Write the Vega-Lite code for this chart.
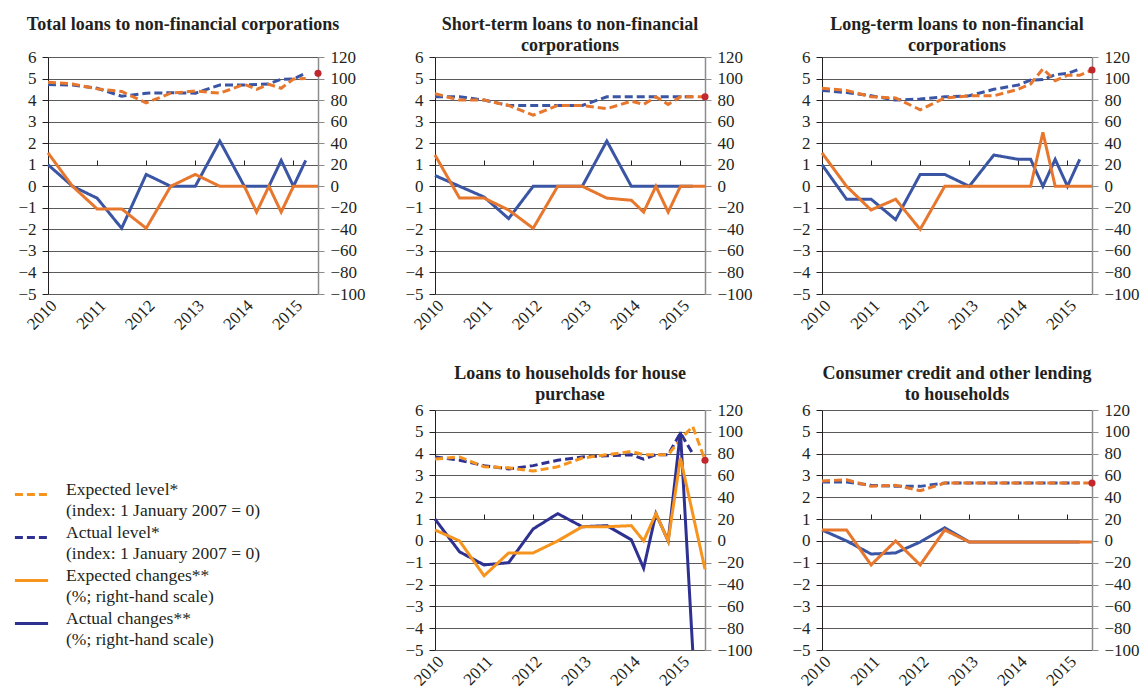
{
"$schema": "https://vega.github.io/schema/vega-lite/v6.json",
"background": "white",
"padding": {"left": 13, "top": 15, "right": 5, "bottom": 5},
"config": {
  "font": "Liberation Serif",
  "view": {"stroke": null},
  "axis": {"labelFont": "Liberation Serif", "labelFontSize": 17, "labelColor": "#231F20", "titleFont": "Liberation Serif"},
  "title": {"font": "Liberation Serif", "fontSize": 18, "fontWeight": "bold", "color": "#231F20", "lineHeight": 21.5, "offset": -7, "anchor": "middle", "frame": "group"},
  "style": {"guide-label": {"lineHeight": 21}}
},
"datasets": {
  "l1": [
    {"t":2010,"s":"Actual level","v":4.72},{"t":2010.5,"s":"Actual level","v":4.7},{"t":2011,"s":"Actual level","v":4.55},{"t":2011.5,"s":"Actual level","v":4.18},{"t":2012,"s":"Actual level","v":4.32},{"t":2012.5,"s":"Actual level","v":4.34},{"t":2013,"s":"Actual level","v":4.32},{"t":2013.5,"s":"Actual level","v":4.7},{"t":2014,"s":"Actual level","v":4.7},{"t":2014.25,"s":"Actual level","v":4.72},{"t":2014.5,"s":"Actual level","v":4.75},{"t":2014.75,"s":"Actual level","v":4.97},{"t":2015,"s":"Actual level","v":4.98},{"t":2015.25,"s":"Actual level","v":5.25},
    {"t":2010,"s":"Expected level","v":4.83},{"t":2010.5,"s":"Expected level","v":4.75},{"t":2011,"s":"Expected level","v":4.52},{"t":2011.5,"s":"Expected level","v":4.4},{"t":2012,"s":"Expected level","v":3.87},{"t":2012.5,"s":"Expected level","v":4.32},{"t":2013,"s":"Expected level","v":4.42},{"t":2013.5,"s":"Expected level","v":4.32},{"t":2014,"s":"Expected level","v":4.73},{"t":2014.25,"s":"Expected level","v":4.5},{"t":2014.5,"s":"Expected level","v":4.73},{"t":2014.75,"s":"Expected level","v":4.55},{"t":2015,"s":"Expected level","v":4.98},{"t":2015.25,"s":"Expected level","v":5.0}
  ],
  "c1": [
    {"t":2010,"s":"Actual changes","v":20},{"t":2010.5,"s":"Actual changes","v":0},{"t":2011,"s":"Actual changes","v":-11},{"t":2011.5,"s":"Actual changes","v":-39},{"t":2012,"s":"Actual changes","v":11},{"t":2012.5,"s":"Actual changes","v":0},{"t":2013,"s":"Actual changes","v":0},{"t":2013.5,"s":"Actual changes","v":42},{"t":2014,"s":"Actual changes","v":0},{"t":2014.25,"s":"Actual changes","v":0},{"t":2014.5,"s":"Actual changes","v":0},{"t":2014.75,"s":"Actual changes","v":24},{"t":2015,"s":"Actual changes","v":0},{"t":2015.25,"s":"Actual changes","v":24},
    {"t":2010,"s":"Expected changes","v":31},{"t":2010.5,"s":"Expected changes","v":0},{"t":2011,"s":"Expected changes","v":-21},{"t":2011.5,"s":"Expected changes","v":-21},{"t":2012,"s":"Expected changes","v":-39},{"t":2012.5,"s":"Expected changes","v":0},{"t":2013,"s":"Expected changes","v":11},{"t":2013.5,"s":"Expected changes","v":0},{"t":2014,"s":"Expected changes","v":0},{"t":2014.25,"s":"Expected changes","v":-24},{"t":2014.5,"s":"Expected changes","v":0},{"t":2014.75,"s":"Expected changes","v":-24},{"t":2015,"s":"Expected changes","v":0},{"t":2015.25,"s":"Expected changes","v":0},{"t":2015.5,"s":"Expected changes","v":0}
  ],
  "d1": [{"t":2015.5,"v":5.24}],
  "l2": [
    {"t":2010,"s":"Actual level","v":4.15},{"t":2010.5,"s":"Actual level","v":4.15},{"t":2011,"s":"Actual level","v":4.0},{"t":2011.5,"s":"Actual level","v":3.75},{"t":2012,"s":"Actual level","v":3.75},{"t":2012.5,"s":"Actual level","v":3.75},{"t":2013,"s":"Actual level","v":3.75},{"t":2013.5,"s":"Actual level","v":4.15},{"t":2014,"s":"Actual level","v":4.15},{"t":2014.25,"s":"Actual level","v":4.15},{"t":2014.5,"s":"Actual level","v":4.15},{"t":2014.75,"s":"Actual level","v":4.15},{"t":2015,"s":"Actual level","v":4.15},{"t":2015.25,"s":"Actual level","v":4.15},
    {"t":2010,"s":"Expected level","v":4.3},{"t":2010.5,"s":"Expected level","v":4.0},{"t":2011,"s":"Expected level","v":4.0},{"t":2011.5,"s":"Expected level","v":3.75},{"t":2012,"s":"Expected level","v":3.3},{"t":2012.5,"s":"Expected level","v":3.75},{"t":2013,"s":"Expected level","v":3.75},{"t":2013.5,"s":"Expected level","v":3.6},{"t":2014,"s":"Expected level","v":3.95},{"t":2014.25,"s":"Expected level","v":3.8},{"t":2014.5,"s":"Expected level","v":4.15},{"t":2014.75,"s":"Expected level","v":3.8},{"t":2015,"s":"Expected level","v":4.15},{"t":2015.25,"s":"Expected level","v":4.15},{"t":2015.5,"s":"Expected level","v":4.15}
  ],
  "c2": [
    {"t":2010,"s":"Actual changes","v":10},{"t":2010.5,"s":"Actual changes","v":0},{"t":2011,"s":"Actual changes","v":-10},{"t":2011.5,"s":"Actual changes","v":-30},{"t":2012,"s":"Actual changes","v":0},{"t":2012.5,"s":"Actual changes","v":0},{"t":2013,"s":"Actual changes","v":0},{"t":2013.5,"s":"Actual changes","v":42},{"t":2014,"s":"Actual changes","v":0},{"t":2014.25,"s":"Actual changes","v":0},{"t":2014.5,"s":"Actual changes","v":0},{"t":2014.75,"s":"Actual changes","v":0},{"t":2015,"s":"Actual changes","v":0},{"t":2015.25,"s":"Actual changes","v":0},
    {"t":2010,"s":"Expected changes","v":29},{"t":2010.5,"s":"Expected changes","v":-11},{"t":2011,"s":"Expected changes","v":-11},{"t":2011.5,"s":"Expected changes","v":-22},{"t":2012,"s":"Expected changes","v":-39},{"t":2012.5,"s":"Expected changes","v":0},{"t":2013,"s":"Expected changes","v":0},{"t":2013.5,"s":"Expected changes","v":-11},{"t":2014,"s":"Expected changes","v":-13},{"t":2014.25,"s":"Expected changes","v":-24},{"t":2014.5,"s":"Expected changes","v":0},{"t":2014.75,"s":"Expected changes","v":-24},{"t":2015,"s":"Expected changes","v":0},{"t":2015.25,"s":"Expected changes","v":0},{"t":2015.5,"s":"Expected changes","v":0}
  ],
  "d2": [{"t":2015.5,"v":4.15}],
  "l3": [
    {"t":2010,"s":"Actual level","v":4.45},{"t":2010.5,"s":"Actual level","v":4.35},{"t":2011,"s":"Actual level","v":4.2},{"t":2011.5,"s":"Actual level","v":4.0},{"t":2012,"s":"Actual level","v":4.05},{"t":2012.5,"s":"Actual level","v":4.15},{"t":2013,"s":"Actual level","v":4.2},{"t":2013.5,"s":"Actual level","v":4.5},{"t":2014,"s":"Actual level","v":4.7},{"t":2014.25,"s":"Actual level","v":4.93},{"t":2014.5,"s":"Actual level","v":4.95},{"t":2014.75,"s":"Actual level","v":5.18},{"t":2015,"s":"Actual level","v":5.24},{"t":2015.25,"s":"Actual level","v":5.44},
    {"t":2010,"s":"Expected level","v":4.55},{"t":2010.5,"s":"Expected level","v":4.45},{"t":2011,"s":"Expected level","v":4.15},{"t":2011.5,"s":"Expected level","v":4.1},{"t":2012,"s":"Expected level","v":3.55},{"t":2012.5,"s":"Expected level","v":4.1},{"t":2013,"s":"Expected level","v":4.2},{"t":2013.5,"s":"Expected level","v":4.2},{"t":2014,"s":"Expected level","v":4.5},{"t":2014.25,"s":"Expected level","v":4.75},{"t":2014.5,"s":"Expected level","v":5.45},{"t":2014.75,"s":"Expected level","v":4.9},{"t":2015,"s":"Expected level","v":5.15},{"t":2015.25,"s":"Expected level","v":5.15},{"t":2015.5,"s":"Expected level","v":5.4}
  ],
  "c3": [
    {"t":2010,"s":"Actual changes","v":20},{"t":2010.5,"s":"Actual changes","v":-12},{"t":2011,"s":"Actual changes","v":-12},{"t":2011.5,"s":"Actual changes","v":-31},{"t":2012,"s":"Actual changes","v":11},{"t":2012.5,"s":"Actual changes","v":11},{"t":2013,"s":"Actual changes","v":0},{"t":2013.5,"s":"Actual changes","v":29},{"t":2014,"s":"Actual changes","v":25},{"t":2014.25,"s":"Actual changes","v":25},{"t":2014.5,"s":"Actual changes","v":0},{"t":2014.75,"s":"Actual changes","v":25},{"t":2015,"s":"Actual changes","v":0},{"t":2015.25,"s":"Actual changes","v":25},
    {"t":2010,"s":"Expected changes","v":31},{"t":2010.5,"s":"Expected changes","v":0},{"t":2011,"s":"Expected changes","v":-22},{"t":2011.5,"s":"Expected changes","v":-12},{"t":2012,"s":"Expected changes","v":-40},{"t":2012.5,"s":"Expected changes","v":0},{"t":2013,"s":"Expected changes","v":0},{"t":2013.5,"s":"Expected changes","v":0},{"t":2014,"s":"Expected changes","v":0},{"t":2014.25,"s":"Expected changes","v":0},{"t":2014.5,"s":"Expected changes","v":50},{"t":2014.75,"s":"Expected changes","v":0},{"t":2015,"s":"Expected changes","v":0},{"t":2015.25,"s":"Expected changes","v":0},{"t":2015.5,"s":"Expected changes","v":0}
  ],
  "d3": [{"t":2015.5,"v":5.4}],
  "l4": [
    {"t":2010,"s":"Actual level","v":3.85},{"t":2010.5,"s":"Actual level","v":3.7},{"t":2011,"s":"Actual level","v":3.45},{"t":2011.5,"s":"Actual level","v":3.3},{"t":2012,"s":"Actual level","v":3.45},{"t":2012.5,"s":"Actual level","v":3.7},{"t":2013,"s":"Actual level","v":3.85},{"t":2013.5,"s":"Actual level","v":3.9},{"t":2014,"s":"Actual level","v":3.95},{"t":2014.25,"s":"Actual level","v":3.75},{"t":2014.5,"s":"Actual level","v":3.95},{"t":2014.75,"s":"Actual level","v":3.95},{"t":2015,"s":"Actual level","v":4.95},{"t":2015.25,"s":"Actual level","v":4.0},
    {"t":2010,"s":"Expected level","v":3.75},{"t":2010.5,"s":"Expected level","v":3.85},{"t":2011,"s":"Expected level","v":3.4},{"t":2011.5,"s":"Expected level","v":3.35},{"t":2012,"s":"Expected level","v":3.2},{"t":2012.5,"s":"Expected level","v":3.4},{"t":2013,"s":"Expected level","v":3.8},{"t":2013.5,"s":"Expected level","v":3.95},{"t":2014,"s":"Expected level","v":4.1},{"t":2014.25,"s":"Expected level","v":3.95},{"t":2014.5,"s":"Expected level","v":3.95},{"t":2014.75,"s":"Expected level","v":3.95},{"t":2015,"s":"Expected level","v":4.65},{"t":2015.25,"s":"Expected level","v":5.25},{"t":2015.5,"s":"Expected level","v":3.7}
  ],
  "c4": [
    {"t":2010,"s":"Actual changes","v":20},{"t":2010.5,"s":"Actual changes","v":-10},{"t":2011,"s":"Actual changes","v":-22},{"t":2011.5,"s":"Actual changes","v":-20},{"t":2012,"s":"Actual changes","v":11},{"t":2012.5,"s":"Actual changes","v":25},{"t":2013,"s":"Actual changes","v":13},{"t":2013.5,"s":"Actual changes","v":14},{"t":2014,"s":"Actual changes","v":1},{"t":2014.25,"s":"Actual changes","v":-25},{"t":2014.5,"s":"Actual changes","v":25},{"t":2014.75,"s":"Actual changes","v":0},{"t":2015,"s":"Actual changes","v":100},{"t":2015.25,"s":"Actual changes","v":-100},
    {"t":2010,"s":"Expected changes","v":10},{"t":2010.5,"s":"Expected changes","v":0},{"t":2011,"s":"Expected changes","v":-32},{"t":2011.5,"s":"Expected changes","v":-11},{"t":2012,"s":"Expected changes","v":-11},{"t":2012.5,"s":"Expected changes","v":0},{"t":2013,"s":"Expected changes","v":13},{"t":2013.5,"s":"Expected changes","v":13},{"t":2014,"s":"Expected changes","v":14},{"t":2014.25,"s":"Expected changes","v":0},{"t":2014.5,"s":"Expected changes","v":25},{"t":2014.75,"s":"Expected changes","v":0},{"t":2015,"s":"Expected changes","v":76},{"t":2015.5,"s":"Expected changes","v":-26}
  ],
  "d4": [{"t":2015.5,"v":3.7}],
  "l5": [
    {"t":2010,"s":"Actual level","v":2.7},{"t":2010.5,"s":"Actual level","v":2.7},{"t":2011,"s":"Actual level","v":2.55},{"t":2011.5,"s":"Actual level","v":2.5},{"t":2012,"s":"Actual level","v":2.5},{"t":2012.5,"s":"Actual level","v":2.65},{"t":2013,"s":"Actual level","v":2.65},{"t":2013.5,"s":"Actual level","v":2.65},{"t":2014,"s":"Actual level","v":2.65},{"t":2014.25,"s":"Actual level","v":2.65},{"t":2014.5,"s":"Actual level","v":2.65},{"t":2014.75,"s":"Actual level","v":2.65},{"t":2015,"s":"Actual level","v":2.65},{"t":2015.25,"s":"Actual level","v":2.65},
    {"t":2010,"s":"Expected level","v":2.75},{"t":2010.5,"s":"Expected level","v":2.8},{"t":2011,"s":"Expected level","v":2.5},{"t":2011.5,"s":"Expected level","v":2.55},{"t":2012,"s":"Expected level","v":2.3},{"t":2012.5,"s":"Expected level","v":2.65},{"t":2013,"s":"Expected level","v":2.65},{"t":2013.5,"s":"Expected level","v":2.65},{"t":2014,"s":"Expected level","v":2.65},{"t":2014.25,"s":"Expected level","v":2.65},{"t":2014.5,"s":"Expected level","v":2.65},{"t":2014.75,"s":"Expected level","v":2.65},{"t":2015,"s":"Expected level","v":2.65},{"t":2015.25,"s":"Expected level","v":2.65},{"t":2015.5,"s":"Expected level","v":2.65}
  ],
  "c5": [
    {"t":2010,"s":"Actual changes","v":10},{"t":2010.5,"s":"Actual changes","v":0},{"t":2011,"s":"Actual changes","v":-12},{"t":2011.5,"s":"Actual changes","v":-11},{"t":2012,"s":"Actual changes","v":-1},{"t":2012.5,"s":"Actual changes","v":12},{"t":2013,"s":"Actual changes","v":-1},{"t":2013.5,"s":"Actual changes","v":-1},{"t":2014,"s":"Actual changes","v":-1},{"t":2014.25,"s":"Actual changes","v":-1},{"t":2014.5,"s":"Actual changes","v":-1},{"t":2014.75,"s":"Actual changes","v":-1},{"t":2015,"s":"Actual changes","v":-1},{"t":2015.25,"s":"Actual changes","v":-1},
    {"t":2010,"s":"Expected changes","v":10},{"t":2010.5,"s":"Expected changes","v":10},{"t":2011,"s":"Expected changes","v":-22},{"t":2011.5,"s":"Expected changes","v":0},{"t":2012,"s":"Expected changes","v":-22},{"t":2012.5,"s":"Expected changes","v":10},{"t":2013,"s":"Expected changes","v":-1},{"t":2013.5,"s":"Expected changes","v":-1},{"t":2014,"s":"Expected changes","v":-1},{"t":2014.25,"s":"Expected changes","v":-1},{"t":2014.5,"s":"Expected changes","v":-1},{"t":2014.75,"s":"Expected changes","v":-1},{"t":2015,"s":"Expected changes","v":-1},{"t":2015.25,"s":"Expected changes","v":-1},{"t":2015.5,"s":"Expected changes","v":-1}
  ],
  "d5": [{"t":2015.5,"v":2.65}]
},
"columns": 3,
"spacing": {"row": 113, "column": 117},
"bounds": "flush",
"align": "all",
"resolve": {"scale": {"color": "independent", "strokeDash": "independent"}},
"concat": [
  {
    "width": 270, "height": 237,
    "title": {"text": ["Total loans to non-financial corporations", ""]},
    "resolve": {"scale": {"y": "independent"}, "axis": {"x": "independent"}},
    "layer": [
      {"layer": [
        {"data": {"name": "l1"}, "mark": {"type": "line", "strokeWidth": 3},
         "encoding": {
           "x": {"field": "t", "type": "quantitative", "scale": {"domain": [2010, 2015.5], "nice": false, "zero": false}, "axis": {"values": [2010, 2011, 2012, 2013, 2014, 2015], "format": "d", "labelAngle": -45, "domain": false, "ticks": false, "grid": false, "title": null, "labelPadding": 3}},
           "y": {"field": "v", "type": "quantitative", "scale": {"domain": [-5, 6], "nice": false, "zero": false}, "axis": {"orient": "left", "values": [-5,-4,-3,-2,-1,0,1,2,3,4,5,6], "format": "d", "grid": true, "gridColor": "#5a5a5a", "gridWidth": 1, "domainColor": "#231F20", "tickColor": "#231F20", "tickSize": 6, "labelPadding": 6, "title": null}},
           "color": {"field": "s", "type": "nominal", "scale": {"domain": ["Expected level", "Actual level", "Expected changes", "Actual changes"], "range": ["#E8772E", "#3A55A4", "#E8772E", "#3A55A4"]}, "legend": null},
           "strokeDash": {"field": "s", "type": "nominal", "scale": {"domain": ["Expected level", "Actual level", "Expected changes", "Actual changes"], "range": [[8,4],[8,4],[1,0],[1,0]]}, "legend": null}
         }},
        {"data": {"name": "d1"}, "mark": {"type": "point", "filled": true, "color": "#C1272D", "size": 50, "opacity": 1},
         "encoding": {
           "x": {"field": "t", "type": "quantitative", "axis": {"values": [2010, 2011, 2012, 2013, 2014, 2015], "format": "d", "labelAngle": -45, "domain": false, "ticks": false, "grid": false, "title": null, "labelPadding": 3}},
           "y": {"field": "v", "type": "quantitative", "axis": {"orient": "left", "values": [-5,-4,-3,-2,-1,0,1,2,3,4,5,6], "format": "d", "grid": true, "gridColor": "#5a5a5a", "gridWidth": 1, "domainColor": "#231F20", "tickColor": "#231F20", "tickSize": 6, "labelPadding": 6, "title": null}}}}
      ]},
      {"data": {"name": "c1"}, "mark": {"type": "line", "strokeWidth": 3},
       "encoding": {
         "x": {"field": "t", "type": "quantitative", "axis": {"values": [2011, 2012, 2013, 2014, 2015], "labels": false, "domain": false, "ticks": true, "tickSize": 5, "tickColor": "#231F20", "offset": -108, "grid": false, "title": null}},
         "y": {"field": "v", "type": "quantitative", "scale": {"domain": [-100, 120], "nice": false}, "axis": {"orient": "right", "values": [-100,-80,-60,-40,-20,0,20,40,60,80,100,120], "format": "d", "grid": false, "domainColor": "#8c8c8c", "domainWidth": 1.5, "tickColor": "#8c8c8c", "tickSize": 6, "labelPadding": 6, "title": null}},
         "color": {"field": "s", "type": "nominal", "scale": {"domain": ["Expected level", "Actual level", "Expected changes", "Actual changes"], "range": ["#E8772E", "#3A55A4", "#E8772E", "#3A55A4"]}, "legend": null},
         "strokeDash": {"field": "s", "type": "nominal", "scale": {"domain": ["Expected level", "Actual level", "Expected changes", "Actual changes"], "range": [[8,4],[8,4],[1,0],[1,0]]}, "legend": null}
       }}
    ]
  },
  {
    "width": 270, "height": 237,
    "title": {"text": ["Short-term loans to non-financial", "corporations"]},
    "resolve": {"scale": {"y": "independent"}, "axis": {"x": "independent"}},
    "layer": [
      {"layer": [
        {"data": {"name": "l2"}, "mark": {"type": "line", "strokeWidth": 3},
         "encoding": {
           "x": {"field": "t", "type": "quantitative", "scale": {"domain": [2010, 2015.5], "nice": false, "zero": false}, "axis": {"values": [2010, 2011, 2012, 2013, 2014, 2015], "format": "d", "labelAngle": -45, "domain": false, "ticks": false, "grid": false, "title": null, "labelPadding": 3}},
           "y": {"field": "v", "type": "quantitative", "scale": {"domain": [-5, 6], "nice": false, "zero": false}, "axis": {"orient": "left", "values": [-5,-4,-3,-2,-1,0,1,2,3,4,5,6], "format": "d", "grid": true, "gridColor": "#5a5a5a", "gridWidth": 1, "domainColor": "#231F20", "tickColor": "#231F20", "tickSize": 6, "labelPadding": 6, "title": null}},
           "color": {"field": "s", "type": "nominal", "scale": {"domain": ["Expected level", "Actual level", "Expected changes", "Actual changes"], "range": ["#E8772E", "#3A55A4", "#E8772E", "#3A55A4"]}, "legend": null},
           "strokeDash": {"field": "s", "type": "nominal", "scale": {"domain": ["Expected level", "Actual level", "Expected changes", "Actual changes"], "range": [[8,4],[8,4],[1,0],[1,0]]}, "legend": null}
         }},
        {"data": {"name": "d2"}, "mark": {"type": "point", "filled": true, "color": "#C1272D", "size": 50, "opacity": 1},
         "encoding": {
           "x": {"field": "t", "type": "quantitative", "axis": {"values": [2010, 2011, 2012, 2013, 2014, 2015], "format": "d", "labelAngle": -45, "domain": false, "ticks": false, "grid": false, "title": null, "labelPadding": 3}},
           "y": {"field": "v", "type": "quantitative", "axis": {"orient": "left", "values": [-5,-4,-3,-2,-1,0,1,2,3,4,5,6], "format": "d", "grid": true, "gridColor": "#5a5a5a", "gridWidth": 1, "domainColor": "#231F20", "tickColor": "#231F20", "tickSize": 6, "labelPadding": 6, "title": null}}}}
      ]},
      {"data": {"name": "c2"}, "mark": {"type": "line", "strokeWidth": 3},
       "encoding": {
         "x": {"field": "t", "type": "quantitative", "axis": {"values": [2011, 2012, 2013, 2014, 2015], "labels": false, "domain": false, "ticks": true, "tickSize": 5, "tickColor": "#231F20", "offset": -108, "grid": false, "title": null}},
         "y": {"field": "v", "type": "quantitative", "scale": {"domain": [-100, 120], "nice": false}, "axis": {"orient": "right", "values": [-100,-80,-60,-40,-20,0,20,40,60,80,100,120], "format": "d", "grid": false, "domainColor": "#8c8c8c", "domainWidth": 1.5, "tickColor": "#8c8c8c", "tickSize": 6, "labelPadding": 6, "title": null}},
         "color": {"field": "s", "type": "nominal", "scale": {"domain": ["Expected level", "Actual level", "Expected changes", "Actual changes"], "range": ["#E8772E", "#3A55A4", "#E8772E", "#3A55A4"]}, "legend": null},
         "strokeDash": {"field": "s", "type": "nominal", "scale": {"domain": ["Expected level", "Actual level", "Expected changes", "Actual changes"], "range": [[8,4],[8,4],[1,0],[1,0]]}, "legend": null}
       }}
    ]
  },
  {
    "width": 270, "height": 237,
    "title": {"text": ["Long-term loans to non-financial", "corporations"]},
    "resolve": {"scale": {"y": "independent"}, "axis": {"x": "independent"}},
    "layer": [
      {"layer": [
        {"data": {"name": "l3"}, "mark": {"type": "line", "strokeWidth": 3},
         "encoding": {
           "x": {"field": "t", "type": "quantitative", "scale": {"domain": [2010, 2015.5], "nice": false, "zero": false}, "axis": {"values": [2010, 2011, 2012, 2013, 2014, 2015], "format": "d", "labelAngle": -45, "domain": false, "ticks": false, "grid": false, "title": null, "labelPadding": 3}},
           "y": {"field": "v", "type": "quantitative", "scale": {"domain": [-5, 6], "nice": false, "zero": false}, "axis": {"orient": "left", "values": [-5,-4,-3,-2,-1,0,1,2,3,4,5,6], "format": "d", "grid": true, "gridColor": "#5a5a5a", "gridWidth": 1, "domainColor": "#231F20", "tickColor": "#231F20", "tickSize": 6, "labelPadding": 6, "title": null}},
           "color": {"field": "s", "type": "nominal", "scale": {"domain": ["Expected level", "Actual level", "Expected changes", "Actual changes"], "range": ["#E8772E", "#3A55A4", "#E8772E", "#3A55A4"]}, "legend": null},
           "strokeDash": {"field": "s", "type": "nominal", "scale": {"domain": ["Expected level", "Actual level", "Expected changes", "Actual changes"], "range": [[8,4],[8,4],[1,0],[1,0]]}, "legend": null}
         }},
        {"data": {"name": "d3"}, "mark": {"type": "point", "filled": true, "color": "#C1272D", "size": 50, "opacity": 1},
         "encoding": {
           "x": {"field": "t", "type": "quantitative", "axis": {"values": [2010, 2011, 2012, 2013, 2014, 2015], "format": "d", "labelAngle": -45, "domain": false, "ticks": false, "grid": false, "title": null, "labelPadding": 3}},
           "y": {"field": "v", "type": "quantitative", "axis": {"orient": "left", "values": [-5,-4,-3,-2,-1,0,1,2,3,4,5,6], "format": "d", "grid": true, "gridColor": "#5a5a5a", "gridWidth": 1, "domainColor": "#231F20", "tickColor": "#231F20", "tickSize": 6, "labelPadding": 6, "title": null}}}}
      ]},
      {"data": {"name": "c3"}, "mark": {"type": "line", "strokeWidth": 3},
       "encoding": {
         "x": {"field": "t", "type": "quantitative", "axis": {"values": [2011, 2012, 2013, 2014, 2015], "labels": false, "domain": false, "ticks": true, "tickSize": 5, "tickColor": "#231F20", "offset": -108, "grid": false, "title": null}},
         "y": {"field": "v", "type": "quantitative", "scale": {"domain": [-100, 120], "nice": false}, "axis": {"orient": "right", "values": [-100,-80,-60,-40,-20,0,20,40,60,80,100,120], "format": "d", "grid": false, "domainColor": "#8c8c8c", "domainWidth": 1.5, "tickColor": "#8c8c8c", "tickSize": 6, "labelPadding": 6, "title": null}},
         "color": {"field": "s", "type": "nominal", "scale": {"domain": ["Expected level", "Actual level", "Expected changes", "Actual changes"], "range": ["#E8772E", "#3A55A4", "#E8772E", "#3A55A4"]}, "legend": null},
         "strokeDash": {"field": "s", "type": "nominal", "scale": {"domain": ["Expected level", "Actual level", "Expected changes", "Actual changes"], "range": [[8,4],[8,4],[1,0],[1,0]]}, "legend": null}
       }}
    ]
  },
  {
    "width": 270, "height": 240,
    "data": {"values": []},
    "mark": {"type": "line", "strokeWidth": 3},
    "encoding": {
      "x": {"field": "t", "type": "quantitative", "scale": {"domain": [2010, 2015.5]}, "axis": null},
      "y": {"field": "v", "type": "quantitative", "scale": {"domain": [-5, 6]}, "axis": null},
      "color": {"field": "s", "type": "nominal", "scale": {"domain": ["Expected level", "Actual level", "Expected changes", "Actual changes"], "range": ["#F7941D", "#2E3192", "#F7941D", "#2E3192"]},
        "legend": {"orient": "none", "legendX": -35, "legendY": 66, "title": null, "symbolType": "stroke", "symbolSize": 1100, "symbolStrokeWidth": 3, "labelFont": "Liberation Serif", "labelFontSize": 17.5, "labelColor": "#231F20", "labelLimit": 400, "labelOffset": 16, "labelBaseline": "alphabetic", "rowPadding": 0,
          "labelExpr": "datum.label == 'Expected level' ? ['Expected level*', '(index: 1 January 2007 = 0)'] : datum.label == 'Actual level' ? ['Actual level*', '(index: 1 January 2007 = 0)'] : datum.label == 'Expected changes' ? ['Expected changes**', '(%; right-hand scale)'] : ['Actual changes**', '(%; right-hand scale)']"}},
      "strokeDash": {"field": "s", "type": "nominal", "scale": {"domain": ["Expected level", "Actual level", "Expected changes", "Actual changes"], "range": [[8,4],[8,4],[1,0],[1,0]]},
        "legend": {"orient": "none", "legendX": -35, "legendY": 66, "title": null, "symbolType": "stroke", "symbolSize": 1100, "symbolStrokeWidth": 3, "labelFont": "Liberation Serif", "labelFontSize": 17.5, "labelColor": "#231F20", "labelLimit": 400, "labelOffset": 16, "labelBaseline": "alphabetic", "rowPadding": 0,
          "labelExpr": "datum.label == 'Expected level' ? ['Expected level*', '(index: 1 January 2007 = 0)'] : datum.label == 'Actual level' ? ['Actual level*', '(index: 1 January 2007 = 0)'] : datum.label == 'Expected changes' ? ['Expected changes**', '(%; right-hand scale)'] : ['Actual changes**', '(%; right-hand scale)']"}}
    }
  },
  {
    "width": 270, "height": 240,
    "title": {"text": ["Loans to households for house", "purchase"], "offset": -3},
    "resolve": {"scale": {"y": "independent"}, "axis": {"x": "independent"}},
    "layer": [
      {"layer": [
        {"data": {"name": "l4"}, "mark": {"type": "line", "strokeWidth": 3},
         "encoding": {
           "x": {"field": "t", "type": "quantitative", "scale": {"domain": [2010, 2015.5], "nice": false, "zero": false}, "axis": {"values": [2010, 2011, 2012, 2013, 2014, 2015], "format": "d", "labelAngle": -45, "domain": false, "ticks": false, "grid": false, "title": null, "labelPadding": 3}},
           "y": {"field": "v", "type": "quantitative", "scale": {"domain": [-5, 6], "nice": false, "zero": false}, "axis": {"orient": "left", "values": [-5,-4,-3,-2,-1,0,1,2,3,4,5,6], "format": "d", "grid": true, "gridColor": "#5a5a5a", "gridWidth": 1, "domainColor": "#231F20", "tickColor": "#231F20", "tickSize": 6, "labelPadding": 6, "title": null}},
           "color": {"field": "s", "type": "nominal", "scale": {"domain": ["Expected level", "Actual level", "Expected changes", "Actual changes"], "range": ["#F7941D", "#2E3192", "#F7941D", "#2E3192"]}, "legend": null},
           "strokeDash": {"field": "s", "type": "nominal", "scale": {"domain": ["Expected level", "Actual level", "Expected changes", "Actual changes"], "range": [[8,4],[8,4],[1,0],[1,0]]}, "legend": null}
         }},
        {"data": {"name": "d4"}, "mark": {"type": "point", "filled": true, "color": "#C1272D", "size": 50, "opacity": 1},
         "encoding": {
           "x": {"field": "t", "type": "quantitative", "axis": {"values": [2010, 2011, 2012, 2013, 2014, 2015], "format": "d", "labelAngle": -45, "domain": false, "ticks": false, "grid": false, "title": null, "labelPadding": 3}},
           "y": {"field": "v", "type": "quantitative", "axis": {"orient": "left", "values": [-5,-4,-3,-2,-1,0,1,2,3,4,5,6], "format": "d", "grid": true, "gridColor": "#5a5a5a", "gridWidth": 1, "domainColor": "#231F20", "tickColor": "#231F20", "tickSize": 6, "labelPadding": 6, "title": null}}}}
      ]},
      {"data": {"name": "c4"}, "mark": {"type": "line", "strokeWidth": 3},
       "encoding": {
         "x": {"field": "t", "type": "quantitative", "axis": {"values": [2011, 2012, 2013, 2014, 2015], "labels": false, "domain": false, "ticks": true, "tickSize": 5, "tickColor": "#231F20", "offset": -109, "grid": false, "title": null}},
         "y": {"field": "v", "type": "quantitative", "scale": {"domain": [-100, 120], "nice": false}, "axis": {"orient": "right", "values": [-100,-80,-60,-40,-20,0,20,40,60,80,100,120], "format": "d", "grid": false, "domainColor": "#8c8c8c", "domainWidth": 1.5, "tickColor": "#8c8c8c", "tickSize": 6, "labelPadding": 6, "title": null}},
         "color": {"field": "s", "type": "nominal", "scale": {"domain": ["Expected level", "Actual level", "Expected changes", "Actual changes"], "range": ["#F7941D", "#2E3192", "#F7941D", "#2E3192"]}, "legend": null},
         "strokeDash": {"field": "s", "type": "nominal", "scale": {"domain": ["Expected level", "Actual level", "Expected changes", "Actual changes"], "range": [[8,4],[8,4],[1,0],[1,0]]}, "legend": null}
       }}
    ]
  },
  {
    "width": 270, "height": 240,
    "title": {"text": ["Consumer credit and other lending", "to households"], "offset": -3},
    "resolve": {"scale": {"y": "independent"}, "axis": {"x": "independent"}},
    "layer": [
      {"layer": [
        {"data": {"name": "l5"}, "mark": {"type": "line", "strokeWidth": 3},
         "encoding": {
           "x": {"field": "t", "type": "quantitative", "scale": {"domain": [2010, 2015.5], "nice": false, "zero": false}, "axis": {"values": [2010, 2011, 2012, 2013, 2014, 2015], "format": "d", "labelAngle": -45, "domain": false, "ticks": false, "grid": false, "title": null, "labelPadding": 3}},
           "y": {"field": "v", "type": "quantitative", "scale": {"domain": [-5, 6], "nice": false, "zero": false}, "axis": {"orient": "left", "values": [-5,-4,-3,-2,-1,0,1,2,3,4,5,6], "format": "d", "grid": true, "gridColor": "#5a5a5a", "gridWidth": 1, "domainColor": "#231F20", "tickColor": "#231F20", "tickSize": 6, "labelPadding": 6, "title": null}},
           "color": {"field": "s", "type": "nominal", "scale": {"domain": ["Expected level", "Actual level", "Expected changes", "Actual changes"], "range": ["#E8772E", "#3A55A4", "#E8772E", "#3A55A4"]}, "legend": null},
           "strokeDash": {"field": "s", "type": "nominal", "scale": {"domain": ["Expected level", "Actual level", "Expected changes", "Actual changes"], "range": [[8,4],[8,4],[1,0],[1,0]]}, "legend": null}
         }},
        {"data": {"name": "d5"}, "mark": {"type": "point", "filled": true, "color": "#C1272D", "size": 50, "opacity": 1},
         "encoding": {
           "x": {"field": "t", "type": "quantitative", "axis": {"values": [2010, 2011, 2012, 2013, 2014, 2015], "format": "d", "labelAngle": -45, "domain": false, "ticks": false, "grid": false, "title": null, "labelPadding": 3}},
           "y": {"field": "v", "type": "quantitative", "axis": {"orient": "left", "values": [-5,-4,-3,-2,-1,0,1,2,3,4,5,6], "format": "d", "grid": true, "gridColor": "#5a5a5a", "gridWidth": 1, "domainColor": "#231F20", "tickColor": "#231F20", "tickSize": 6, "labelPadding": 6, "title": null}}}}
      ]},
      {"data": {"name": "c5"}, "mark": {"type": "line", "strokeWidth": 3},
       "encoding": {
         "x": {"field": "t", "type": "quantitative", "axis": {"values": [2011, 2012, 2013, 2014, 2015], "labels": false, "domain": false, "ticks": true, "tickSize": 5, "tickColor": "#231F20", "offset": -109, "grid": false, "title": null}},
         "y": {"field": "v", "type": "quantitative", "scale": {"domain": [-100, 120], "nice": false}, "axis": {"orient": "right", "values": [-100,-80,-60,-40,-20,0,20,40,60,80,100,120], "format": "d", "grid": false, "domainColor": "#8c8c8c", "domainWidth": 1.5, "tickColor": "#8c8c8c", "tickSize": 6, "labelPadding": 6, "title": null}},
         "color": {"field": "s", "type": "nominal", "scale": {"domain": ["Expected level", "Actual level", "Expected changes", "Actual changes"], "range": ["#E8772E", "#3A55A4", "#E8772E", "#3A55A4"]}, "legend": null},
         "strokeDash": {"field": "s", "type": "nominal", "scale": {"domain": ["Expected level", "Actual level", "Expected changes", "Actual changes"], "range": [[8,4],[8,4],[1,0],[1,0]]}, "legend": null}
       }}
    ]
  }
]
}
